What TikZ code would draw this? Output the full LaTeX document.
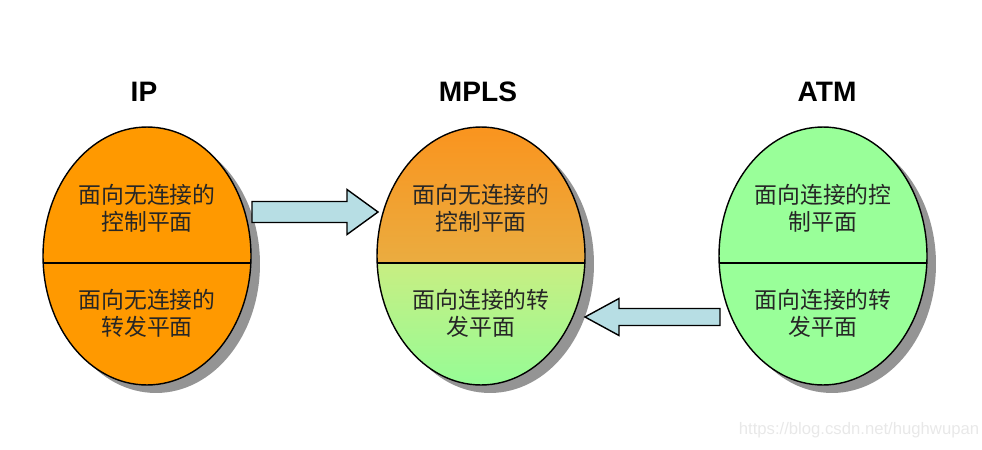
\documentclass[tikz,border=0pt]{standalone}
\usepackage{fontspec}
\setmainfont{Liberation Sans}
\newfontfamily\cjk{Noto Sans CJK SC}
\definecolor{ipOrange}{RGB}{255,153,0}
\definecolor{atmGreen}{RGB}{153,255,153}
\definecolor{arrowBlue}{RGB}{183,222,228}
\definecolor{mplsTop}{RGB}{250,148,30}
\definecolor{mplsMid}{RGB}{220,194,95}
\definecolor{mplsLow}{RGB}{200,238,130}
\definecolor{mplsBot}{RGB}{150,252,150}
\definecolor{markGray}{RGB}{232,232,232}
\usetikzlibrary{calc, positioning, shapes.geometric}

\begin{document}
\begin{tikzpicture}[x=0.02cm, y=-0.02cm,
    plane/.style={ellipse, draw, line width=0.8pt, minimum width=4.16cm, minimum height=5.16cm, inner sep=0pt},
    divider/.style={path picture={\draw[line width=0.8pt]
      ([yshift=-0.14cm]path picture bounding box.west) -- ([yshift=-0.14cm]path picture bounding box.east);}},
    planeshadow/.style={fill=black!42},
    title/.style={font=\fontsize{16}{18}\selectfont\bfseries},
    lbl/.style={font=\cjk\fontsize{13}{15.5}\selectfont, text=black!85, align=center, inner sep=0pt},
    flow/.style={draw, line width=0.8pt, fill=arrowBlue, line join=miter},
  ]
    \useasboundingbox (0,0) rectangle (982,449);

    \coordinate (ipC) at (147,256);
    \coordinate (mplsC) at (481,256);
    \coordinate (atmC) at (823,256);

    % shadows first
    \foreach \c in {ipC, mplsC, atmC}
      \fill[planeshadow] ($(\c)+(9,8)$) ellipse [x radius=2.08cm, y radius=2.58cm];

    % the three planes
    \node[plane, divider, fill=ipOrange] (ip) at (ipC) {};
    \node[plane, fill=white, path picture={
        \shade[top color=mplsTop, bottom color=mplsMid]
          (path picture bounding box.north west) rectangle ([yshift=-0.14cm]path picture bounding box.east);
        \shade[top color=mplsLow, bottom color=mplsBot]
          ([yshift=-0.14cm]path picture bounding box.west) rectangle (path picture bounding box.south east);
        \draw[line width=0.8pt]
          ([yshift=-0.14cm]path picture bounding box.west) -- ([yshift=-0.14cm]path picture bounding box.east);
      }] (mpls) at (mplsC) {};
    \node[plane, divider, fill=atmGreen] (atm) at (atmC) {};

    \node[title] (ipTitle) at (144,92) {IP};
    \node[title] (mplsTitle) at (478,92) {MPLS};
    \node[title] (atmTitle) at (827,92) {ATM};

    \node[lbl] (ipCtrl) at ([yshift=0.96cm]ip.center) {面向无连接的\\控制平面};
    \node[lbl] (ipFwd) at ([yshift=-1.14cm]ip.center) {面向无连接的\\转发平面};
    \node[lbl] (mplsCtrl) at ([yshift=0.96cm]mpls.center) {面向无连接的\\控制平面};
    \node[lbl] (mplsFwd) at ([yshift=-1.14cm]mpls.center) {面向连接的转\\发平面};
    \node[lbl] (atmCtrl) at ([yshift=0.96cm]atm.center) {面向连接的控\\制平面};
    \node[lbl] (atmFwd) at ([yshift=-1.14cm]atm.center) {面向连接的转\\发平面};

    % block arrows
    \coordinate (a1s) at (252,212);
    \coordinate (a1e) at (378,212);
    \draw[flow] ($(a1s)+(0,-10.5)$) -- ($(a1e)+(-31,-10.5)$) -- ($(a1e)+(-31,-22.5)$) -- (a1e)
      -- ($(a1e)+(-31,22.5)$) -- ($(a1e)+(-31,10.5)$) -- ($(a1s)+(0,10.5)$) -- cycle;
    \coordinate (a2s) at (720,317);
    \coordinate (a2e) at (585,317);
    \draw[flow] ($(a2s)+(0,-8.5)$) -- ($(a2e)+(34,-8.5)$) -- ($(a2e)+(34,-18.5)$) -- (a2e)
      -- ($(a2e)+(34,18.5)$) -- ($(a2e)+(34,8.5)$) -- ($(a2s)+(0,8.5)$) -- cycle;

    \node[font=\fontsize{9.5}{11}\selectfont, text=markGray] (mark) at (859,430) {https://blog.csdn.net/hughwupan};
  \end{tikzpicture}
\end{document}
